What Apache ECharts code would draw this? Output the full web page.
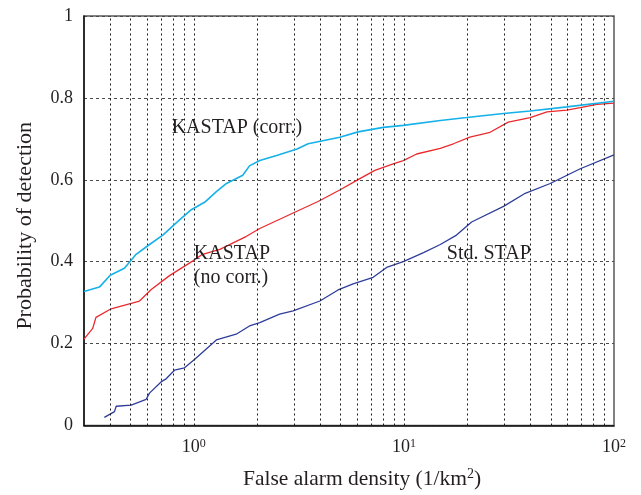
<!DOCTYPE html>
<html>
<head>
<meta charset="utf-8">
<script src="https://cdn.jsdelivr.net/npm/echarts@6/dist/echarts.min.js"></script>
<style>
  html, body { margin: 0; padding: 0; background: #fff; }
  #chart { width: 641px; height: 495px; }
</style>
</head>
<body>
<div id="chart"></div>
<script>
// Detection probability vs. false alarm density (log x axis)
const corrX = [0.3, 0.355, 0.40, 0.467, 0.531, 0.615, 0.712, 0.824, 0.972, 1.125, 1.28, 1.43, 1.71, 1.84, 2.06, 2.5, 3.1, 3.5, 4.95, 6.05, 7.97, 9.93, 14.9, 19.9, 29.8, 39.9, 59.7, 100];
const corrY = [0.327, 0.338, 0.367, 0.384, 0.418, 0.442, 0.465, 0.495, 0.527, 0.545, 0.571, 0.591, 0.611, 0.634, 0.647, 0.66, 0.675, 0.688, 0.704, 0.717, 0.728, 0.733, 0.745, 0.752, 0.762, 0.768, 0.778, 0.792];

const noCorrX = [0.3, 0.33, 0.342, 0.404, 0.551, 0.627, 0.766, 0.99, 1.10, 1.33, 1.78, 2.06, 2.97, 3.9, 4.95, 6.17, 7.27, 8.89, 9.93, 11.5, 14.9, 17.2, 20.6, 25.7, 31.4, 39.9, 48.0, 59.7, 69.1, 83.0, 100];
const noCorrY = [0.211, 0.237, 0.264, 0.285, 0.304, 0.332, 0.366, 0.402, 0.418, 0.430, 0.462, 0.481, 0.519, 0.547, 0.575, 0.603, 0.623, 0.639, 0.647, 0.663, 0.677, 0.688, 0.704, 0.716, 0.741, 0.752, 0.766, 0.770, 0.776, 0.784, 0.787];

const stdX = [0.375, 0.419, 0.427, 0.503, 0.593, 0.615, 0.70, 0.738, 0.809, 0.903, 1.01, 1.28, 1.59, 1.84, 2.06, 2.56, 2.97, 3.98, 4.86, 5.73, 7.14, 8.27, 9.93, 12.4, 14.9, 17.8, 21.0, 29.8, 37.8, 49.7, 69.1, 100];
const stdY = [0.020, 0.034, 0.047, 0.050, 0.064, 0.079, 0.107, 0.114, 0.135, 0.141, 0.162, 0.209, 0.223, 0.243, 0.251, 0.272, 0.280, 0.304, 0.331, 0.346, 0.362, 0.386, 0.400, 0.422, 0.442, 0.465, 0.497, 0.535, 0.567, 0.591, 0.627, 0.661];

// vertical grid positions (every minor decade step)
const xGridValues = [0.4, 0.5, 0.6, 0.7, 0.8, 0.9, 1, 2, 3, 4, 5, 6, 7, 8, 9, 10, 20, 30, 40, 50, 60, 70, 80, 90];
const yTicks = [0, 0.2, 0.4, 0.6, 0.8, 1];

const FONT = '"Liberation Serif", "DejaVu Serif", serif';
const TXT = '#231f20';

const pairs = (xs, ys) => xs.map((x, i) => [x, ys[i]]);

const chart = echarts.init(document.getElementById('chart'), null, { renderer: 'canvas' });

const annotation = (x, y, text) => ({
  coord: [x, y],
  symbolSize: 0,
  label: {
    show: true, position: 'right', distance: 0, formatter: text,
    fontFamily: FONT, fontSize: 20, color: TXT, lineHeight: 24, align: 'left'
  }
});

chart.setOption({
  animation: false,
  grid: {
    left: 84, right: 27, top: 16, bottom: 65,
    show: true, borderColor: '#5a5a5a', borderWidth: 1.5, backgroundColor: 'transparent'
  },
  xAxis: {
    type: 'log', logBase: 10, min: 0.3, max: 100,
    name: 'False alarm density (1/km{s|2})',
    nameLocation: 'middle', nameGap: 42,
    nameTextStyle: {
      fontFamily: FONT, fontSize: 21.5, color: TXT,
      padding: [0, 0, 0, 26],
      rich: { s: { fontFamily: FONT, fontSize: 14, color: TXT, verticalAlign: 'top', padding: [0, 0, 9, 0] } }
    },
    axisLine: { show: true, lineStyle: { color: '#111', width: 1.5 } },
    axisTick: { show: false },
    splitLine: { show: false },
    axisLabel: {
      showMinLabel: false, margin: 12,
      formatter: v => {
        const e = Math.round(Math.log10(v));
        if (Math.abs(Math.pow(10, e) - v) > 1e-9 * v) return '';
        return '{b|10}{s|' + e + '}';
      },
      rich: {
        b: { fontFamily: FONT, fontSize: 18, color: TXT },
        s: { fontFamily: FONT, fontSize: 12, color: TXT, verticalAlign: 'top', padding: [0, 0, 8, 0] }
      }
    }
  },
  yAxis: {
    type: 'value', min: 0, max: 1, interval: 0.2,
    name: 'Probability of detection',
    nameLocation: 'middle', nameGap: 48, nameRotate: 90,
    nameTextStyle: { fontFamily: FONT, fontSize: 22, color: TXT, padding: [0, 10, 0, 0] },
    axisLine: { show: true, lineStyle: { color: '#111', width: 1.5 } },
    axisTick: { show: false },
    axisLabel: {
      margin: 11, fontFamily: FONT, fontSize: 18, color: TXT,
      formatter: v => {
        const t = yTicks.find(k => Math.abs(k - v) < 1e-9);
        return t === undefined ? '' : String(t);
      }
    },
    splitLine: {
      show: true,
      lineStyle: { color: '#4a4a4a', width: 1, type: [3, 3] }
    }
  },
  series: [
    {
      name: 'grid', type: 'line', data: [], silent: true,
      markLine: {
        silent: true, symbol: 'none', animation: false,
        label: { show: false },
        lineStyle: { color: '#1a1a1a', width: 1, type: [2, 3] },
        data: xGridValues.map(v => ({ xAxis: v }))
      }
    },
    {
      name: 'KASTAP (corr.)', type: 'line', data: pairs(corrX, corrY),
      showSymbol: false, lineStyle: { color: '#15b1e8', width: 1.6 }, z: 5,
      markPoint: { silent: true, data: [annotation(0.784, 0.726, 'KASTAP (corr.)')] }
    },
    {
      name: 'KASTAP (no corr.)', type: 'line', data: pairs(noCorrX, noCorrY),
      showSymbol: false, lineStyle: { color: '#ec2a2e', width: 1.3 }, z: 4,
      markPoint: { silent: true, data: [annotation(1.0, 0.391, 'KASTAP\n(no corr.)')] }
    },
    {
      name: 'Std. STAP', type: 'line', data: pairs(stdX, stdY),
      showSymbol: false, lineStyle: { color: '#2e3d9a', width: 1.3 }, z: 3,
      markPoint: { silent: true, data: [annotation(16.0, 0.42, 'Std. STAP')] }
    }
  ]
});
</script>
</body>
</html>
